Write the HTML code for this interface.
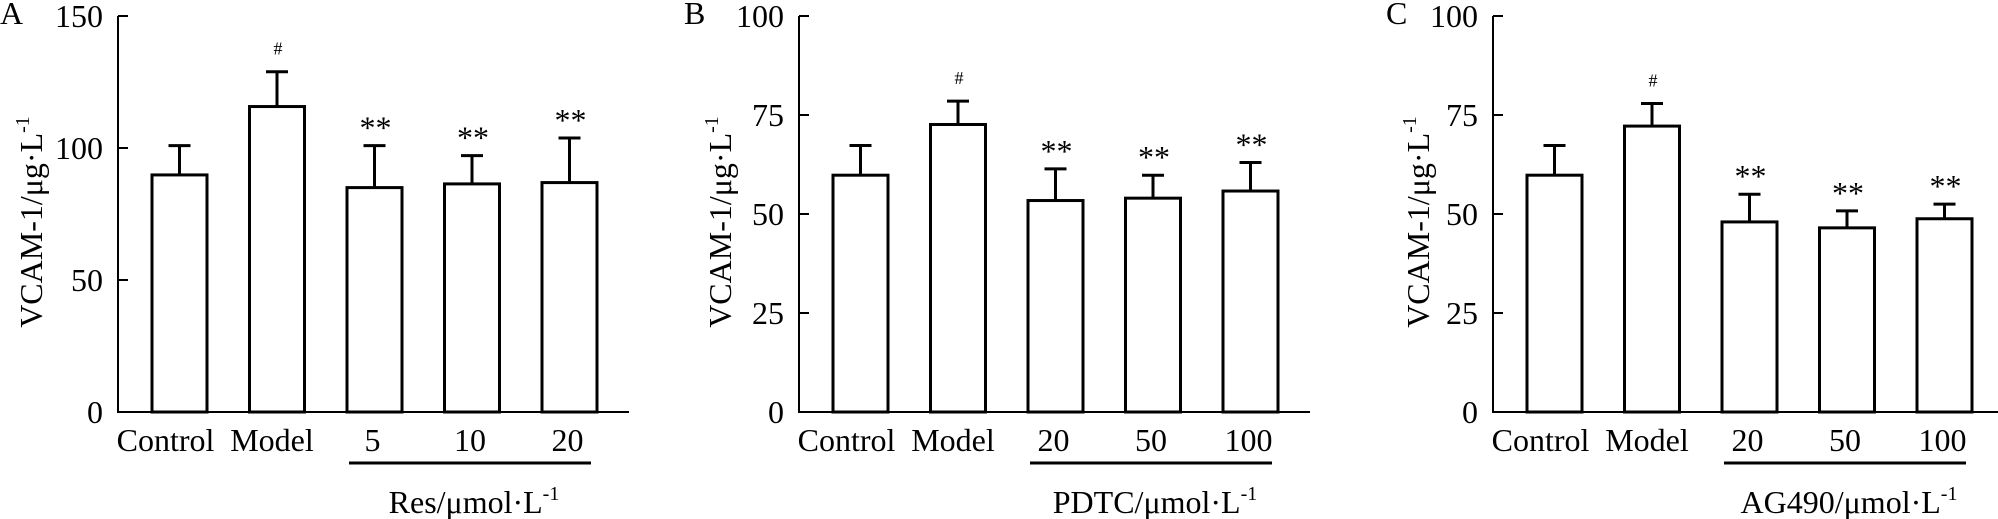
<!DOCTYPE html>
<html><head><meta charset="utf-8"><style>
html,body{margin:0;padding:0;background:#fff;}
svg{display:block;font-family:"Liberation Serif","Times New Roman",serif;}
</style></head>
<body>
<svg id="fig" width="1998" height="519" viewBox="0 0 1998 519" xmlns="http://www.w3.org/2000/svg"></svg>
<script>
const categoriesA = ["Control","Model","5","10","20"];
const valuesA = [89.8, 115.7, 85.0, 86.4, 86.9];
const errorsA = [11.1, 13.2, 15.9, 10.7, 16.9];
const marksA = ["", "#", "**", "**", "**"];
const ticksA = [0, 50, 100, 150];

const categoriesB = ["Control","Model","20","50","100"];
const valuesB = [59.8, 72.6, 53.4, 54.0, 55.8];
const errorsB = [7.5, 5.9, 8.0, 5.8, 7.2];
const marksB = ["", "#", "**", "**", "**"];
const ticksB = [0, 25, 50, 75, 100];

const categoriesC = ["Control","Model","20","50","100"];
const valuesC = [59.8, 72.2, 48.0, 46.5, 48.8];
const errorsC = [7.5, 5.7, 7.0, 4.3, 3.7];
const marksC = ["", "#", "**", "**", "**"];
const ticksC = [0, 25, 50, 75, 100];

const svg = document.getElementById('fig');
const NS = "http://www.w3.org/2000/svg";
function mk(tag, attrs, parent){
  const e = document.createElementNS(NS, tag);
  for (const k in attrs) e.setAttribute(k, attrs[k]);
  (parent||svg).appendChild(e);
  return e;
}

function panel(id, letter, letterX, axisX, titleX, cats, vals, errs, marks, ticks, treat){
  const g = mk('g', {});
  
  
  const y0 = 412, yTop = 16;
  const ymax = ticks[ticks.length-1];
  const y = v => y0 - (v/ymax)*(y0-yTop);
  const barW = 55, step = 97.5, first = axisX + 34;
  const bx = i => first + i*step;

  const lt = mk('text', {x: letterX, y: 24, 'font-size': 32, fill:'#000'}, g);
  lt.textContent = letter;
  
  

  // y axis
  const ya = mk('line', {x1: axisX, y1: yTop, x2: axisX, y2: y0+1, stroke:'#000', 'stroke-width':2}, g);
  
  
  const xa = mk('line', {x1: axisX, y1: y0, x2: axisX+511, y2: y0, stroke:'#000', 'stroke-width':2}, g);
  
  

  ticks.forEach(t => {
    const tk = mk('line', {x1: axisX, y1: y(t), x2: axisX+10, y2: y(t), stroke:'#000', 'stroke-width':2}, g);
    
    
    const tl = mk('text', {x: axisX-15, y: y(t)+11, 'font-size': 32, 'text-anchor':'end', fill:'#000'}, g);
    tl.textContent = t;
    
    
  });

  // y title
  const yt = mk('text', {x: 0, y: 0, 'font-size': 32, 'text-anchor':'middle', fill:'#000',
    transform: `translate(${titleX},222) rotate(-90)`}, g);
  yt.innerHTML = 'VCAM-1/μg·L<tspan dy="-13" font-size="20">-1</tspan>';
  
  

  cats.forEach((c, i) => {
    const x = bx(i), top = y(vals[i]), et = y(vals[i] + errs[i]), cx = x + barW/2;
    const b = mk('rect', {x: x, y: top, width: barW, height: y0 - top, fill:'#fff', stroke:'#000', 'stroke-width':3}, g);
    
    
    const el = mk('line', {x1: cx, y1: top, x2: cx, y2: et, stroke:'#000', 'stroke-width':3}, g);
    
    
    const ec = mk('line', {x1: cx-11, y1: et, x2: cx+11, y2: et, stroke:'#000', 'stroke-width':3}, g);
    
    
    if (marks[i]) {
      const small = marks[i] === '#';
      const m = mk('text', {x: cx + 1, y: small ? et - 17 : et - 7, 'font-size': small ? 18 : 32, 'text-anchor':'middle', fill:'#000'}, g);
      m.textContent = marks[i];
      
      
    }
    const dx = i === 0 ? -14 : (i === 1 ? -5 : -2);
    const cl = mk('text', {x: cx + dx, y: 451, 'font-size': 32, 'text-anchor':'middle', fill:'#000'}, g);
    cl.textContent = c;
    
    
  });

  const u1 = bx(2) + 2, u2 = bx(4) + barW - 6;
  const ul = mk('line', {x1: u1, y1: 463, x2: u2, y2: 463, stroke:'#000', 'stroke-width':3}, g);
  
  
  const xt = mk('text', {x: (u1+u2)/2 + 4, y: 513, 'font-size': 32, 'text-anchor':'middle', fill:'#000'}, g);
  xt.innerHTML = treat + '/μmol·L<tspan dy="-13" font-size="20">-1</tspan>';
  
  
}

panel('a', 'A', 0, 118, 42, categoriesA, valuesA, errorsA, marksA, ticksA, 'Res');
panel('b', 'B', 684, 799, 731, categoriesB, valuesB, errorsB, marksB, ticksB, 'PDTC');
panel('c', 'C', 1386, 1493, 1429, categoriesC, valuesC, errorsC, marksC, ticksC, 'AG490');
</script>
</body></html>
